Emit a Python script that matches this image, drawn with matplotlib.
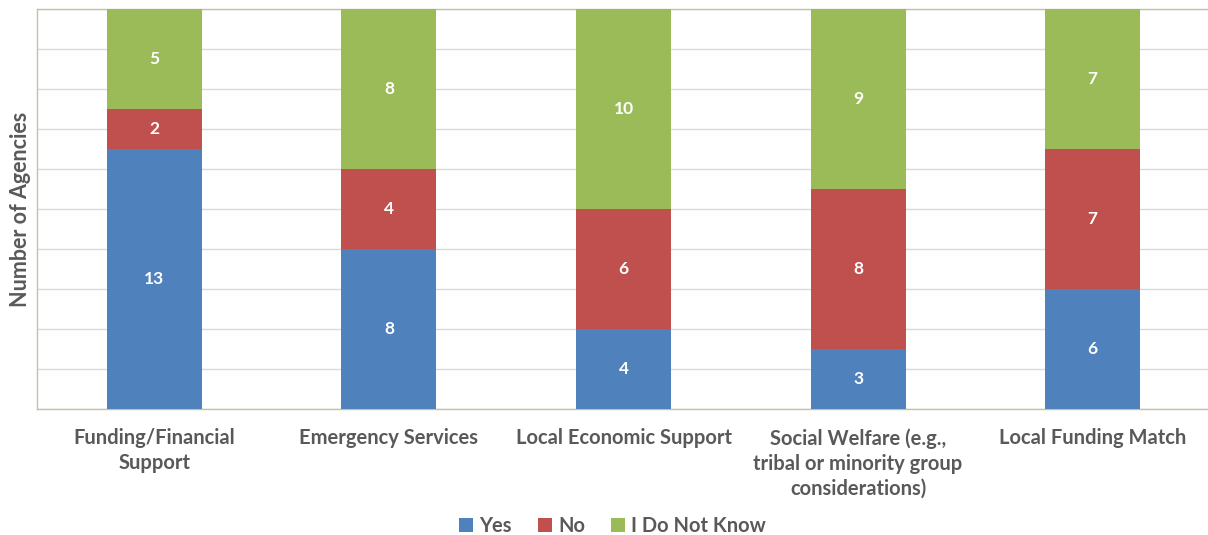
import matplotlib.pyplot as plt
import numpy as np

categories = ['Funding/Financial\nSupport', 'Emergency Services', 'Local Economic Support',
              'Social Welfare (e.g.,\ntribal or minority group\nconsiderations)', 'Local Funding Match']
yes = [13, 8, 4, 3, 6]
no = [2, 4, 6, 8, 7]
dont_know = [5, 8, 10, 9, 7]

series = [('Yes', yes, '#4F81BD'), ('No', no, '#C0504D'), ('I Do Not Know', dont_know, '#9BBB59')]

plt.rcParams['font.family'] = ['Lato', 'DejaVu Sans']
text_color = '#595959'

fig = plt.figure(figsize=(12.08, 5.35), dpi=100)
ax = fig.add_axes([37 / 1208, 126 / 535, 1173 / 1208, 400 / 535])

x = np.arange(len(categories))
bottom = np.zeros(len(categories))
for name, vals, color in series:
    bars = ax.bar(x, vals, width=0.405, bottom=bottom, color=color, label=name, zorder=3)
    for b, v in zip(bars, vals):
        ax.text(b.get_x() + b.get_width() / 2, b.get_y() + v / 2, str(v),
                ha='center', va='center', color='white', fontsize=12.5, fontweight='bold', zorder=4)
    bottom += np.array(vals)

ax.set_xlim(-0.5, len(categories) - 0.5)
ax.set_ylim(0, 20)
ax.set_yticks(np.arange(0, 21, 2))
ax.set_yticklabels([])
ax.tick_params(axis='y', length=0)
ax.tick_params(axis='x', length=0, pad=14)
ax.grid(axis='y', color='#d9d9d9', linewidth=1, zorder=0)

ax.set_xticks(x)
ax.set_xticklabels(categories, fontsize=14.5, fontweight='bold', color=text_color,
                   linespacing=1.3, va='top')

for side in ['left', 'top', 'bottom', 'right']:
    ax.spines[side].set_color('#c8c1a0')
    ax.spines[side].set_linewidth(1)

ax.set_ylabel('Number of Agencies', fontsize=15.5, fontweight='bold', color=text_color, labelpad=1)

leg = fig.legend(loc='center', bbox_to_anchor=(0.507, 0.017), ncol=3, frameon=False,
                 handlelength=0.7, handleheight=0.7, handletextpad=0.3, columnspacing=1.3,
                 prop={'size': 14.5, 'weight': 'bold'})
for t in leg.get_texts():
    t.set_color(text_color)

fig.savefig('out.png', dpi=100)
